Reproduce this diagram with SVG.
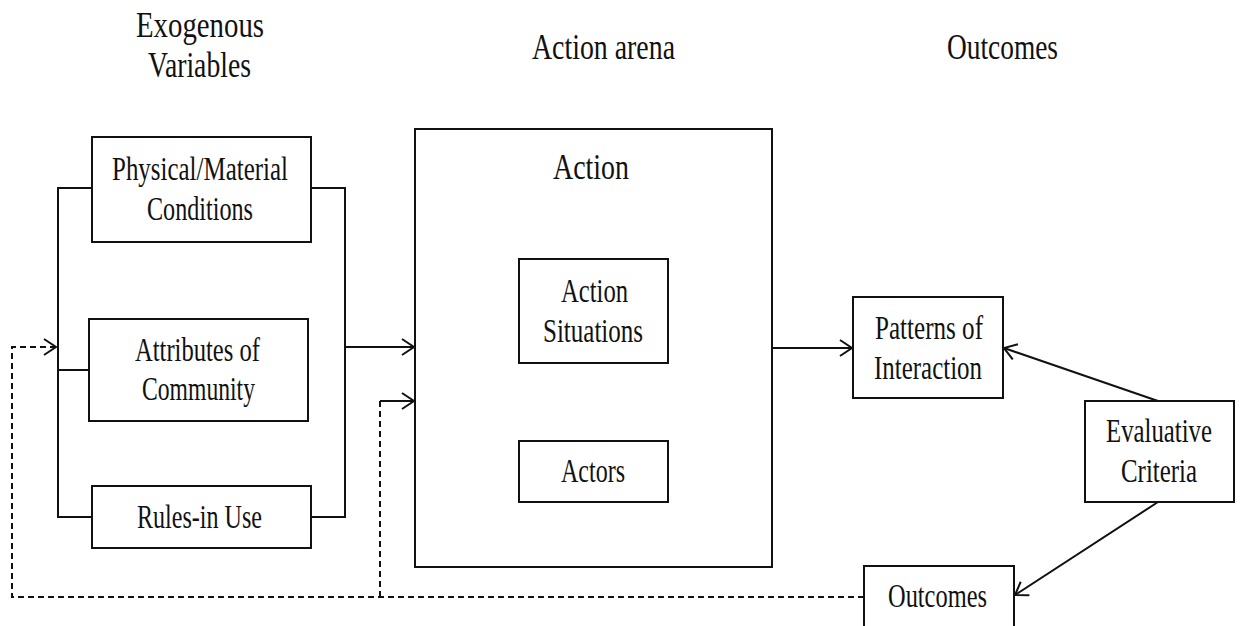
<svg xmlns="http://www.w3.org/2000/svg" width="1243" height="626" viewBox="0 0 1243 626">
<style>
  .box { fill: #fff; stroke: #111; stroke-width: 2; }
  .ln { fill: none; stroke: #111; stroke-width: 2; }
  .dash { fill: none; stroke: #111; stroke-width: 2; stroke-dasharray: 6 4; }
  .t { font-family: "Liberation Serif", "Times New Roman", serif; font-size: 34px; fill: #111; text-anchor: middle; }
  .h { font-family: "Liberation Serif", "Times New Roman", serif; font-size: 36px; fill: #111; text-anchor: middle; }
</style>
<defs>
  <marker id="arr" markerUnits="userSpaceOnUse" markerWidth="16" markerHeight="20" refX="13" refY="9" orient="auto">
    <path d="M1,1 L13,9 L1,17" fill="none" stroke="#111" stroke-width="2"/>
  </marker>
</defs>
<rect width="1243" height="626" fill="#fff"/>

<g id="headers">
  <text class="h" x="200" y="37" textLength="128" lengthAdjust="spacingAndGlyphs">Exogenous</text>
  <text class="h" x="199.5" y="77" textLength="103" lengthAdjust="spacingAndGlyphs">Variables</text>
  <text class="h" x="603.5" y="59" textLength="143" lengthAdjust="spacingAndGlyphs">Action arena</text>
  <text class="h" x="1002.5" y="59" textLength="111" lengthAdjust="spacingAndGlyphs">Outcomes</text>
</g>

<g id="connectors">
  <!-- left bracket -->
  <path class="ln" d="M92,188 H58 V517 H92 M58,370 H89"/>
  <!-- right bracket -->
  <path class="ln" d="M311,188 H345 V517 H311"/>
  <line class="ln" x1="345" y1="347" x2="414" y2="347" marker-end="url(#arr)"/>
  <!-- dashed feedback -->
  <path class="dash" d="M864,597 H12 V347 H56" marker-end="url(#arr)"/>
  <path class="dash" d="M380,597 V401"/>
  <line class="ln" x1="380" y1="401" x2="414" y2="401" marker-end="url(#arr)"/>
  <!-- action to patterns -->
  <line class="ln" x1="772" y1="348" x2="852" y2="348" marker-end="url(#arr)"/>
  <!-- evaluative arrows -->
  <line class="ln" x1="1158" y1="401" x2="1004" y2="348" marker-end="url(#arr)"/>
  <line class="ln" x1="1158" y1="502" x2="1015" y2="595" marker-end="url(#arr)"/>
</g>

<g id="physical">
  <rect class="box" x="92" y="137" width="219" height="105"/>
  <text class="t" x="200" y="180" textLength="176" lengthAdjust="spacingAndGlyphs">Physical/Material</text>
  <text class="t" x="200" y="220" textLength="106" lengthAdjust="spacingAndGlyphs">Conditions</text>
</g>
<g id="attributes">
  <rect class="box" x="89" y="319" width="219" height="102"/>
  <text class="t" x="197.5" y="361" textLength="125" lengthAdjust="spacingAndGlyphs">Attributes of</text>
  <text class="t" x="198.5" y="400" textLength="113" lengthAdjust="spacingAndGlyphs">Community</text>
</g>
<g id="rules">
  <rect class="box" x="92" y="486" width="219" height="62"/>
  <text class="t" x="199.5" y="528" textLength="125" lengthAdjust="spacingAndGlyphs">Rules-in Use</text>
</g>
<g id="action">
  <rect class="box" x="415" y="129" width="357" height="438"/>
  <text class="h" x="591" y="179" textLength="76" lengthAdjust="spacingAndGlyphs">Action</text>
</g>
<g id="situations">
  <rect class="box" x="519" y="259" width="149" height="104"/>
  <text class="t" x="594.5" y="302" textLength="67" lengthAdjust="spacingAndGlyphs">Action</text>
  <text class="t" x="593" y="342" textLength="100" lengthAdjust="spacingAndGlyphs">Situations</text>
</g>
<g id="actors">
  <rect class="box" x="519" y="441" width="149" height="61"/>
  <text class="t" x="593" y="482" textLength="64" lengthAdjust="spacingAndGlyphs">Actors</text>
</g>
<g id="patterns">
  <rect class="box" x="853" y="297" width="150" height="101"/>
  <text class="t" x="929" y="339" textLength="108" lengthAdjust="spacingAndGlyphs">Patterns of</text>
  <text class="t" x="928" y="379" textLength="108" lengthAdjust="spacingAndGlyphs">Interaction</text>
</g>
<g id="evaluative">
  <rect class="box" x="1085" y="401" width="149" height="101"/>
  <text class="t" x="1159" y="442" textLength="106" lengthAdjust="spacingAndGlyphs">Evaluative</text>
  <text class="t" x="1159" y="482" textLength="76" lengthAdjust="spacingAndGlyphs">Criteria</text>
</g>
<g id="outcomes">
  <rect class="box" x="864" y="566" width="150" height="80"/>
  <text class="t" x="937.5" y="607" textLength="99" lengthAdjust="spacingAndGlyphs">Outcomes</text>
</g>
</svg>
